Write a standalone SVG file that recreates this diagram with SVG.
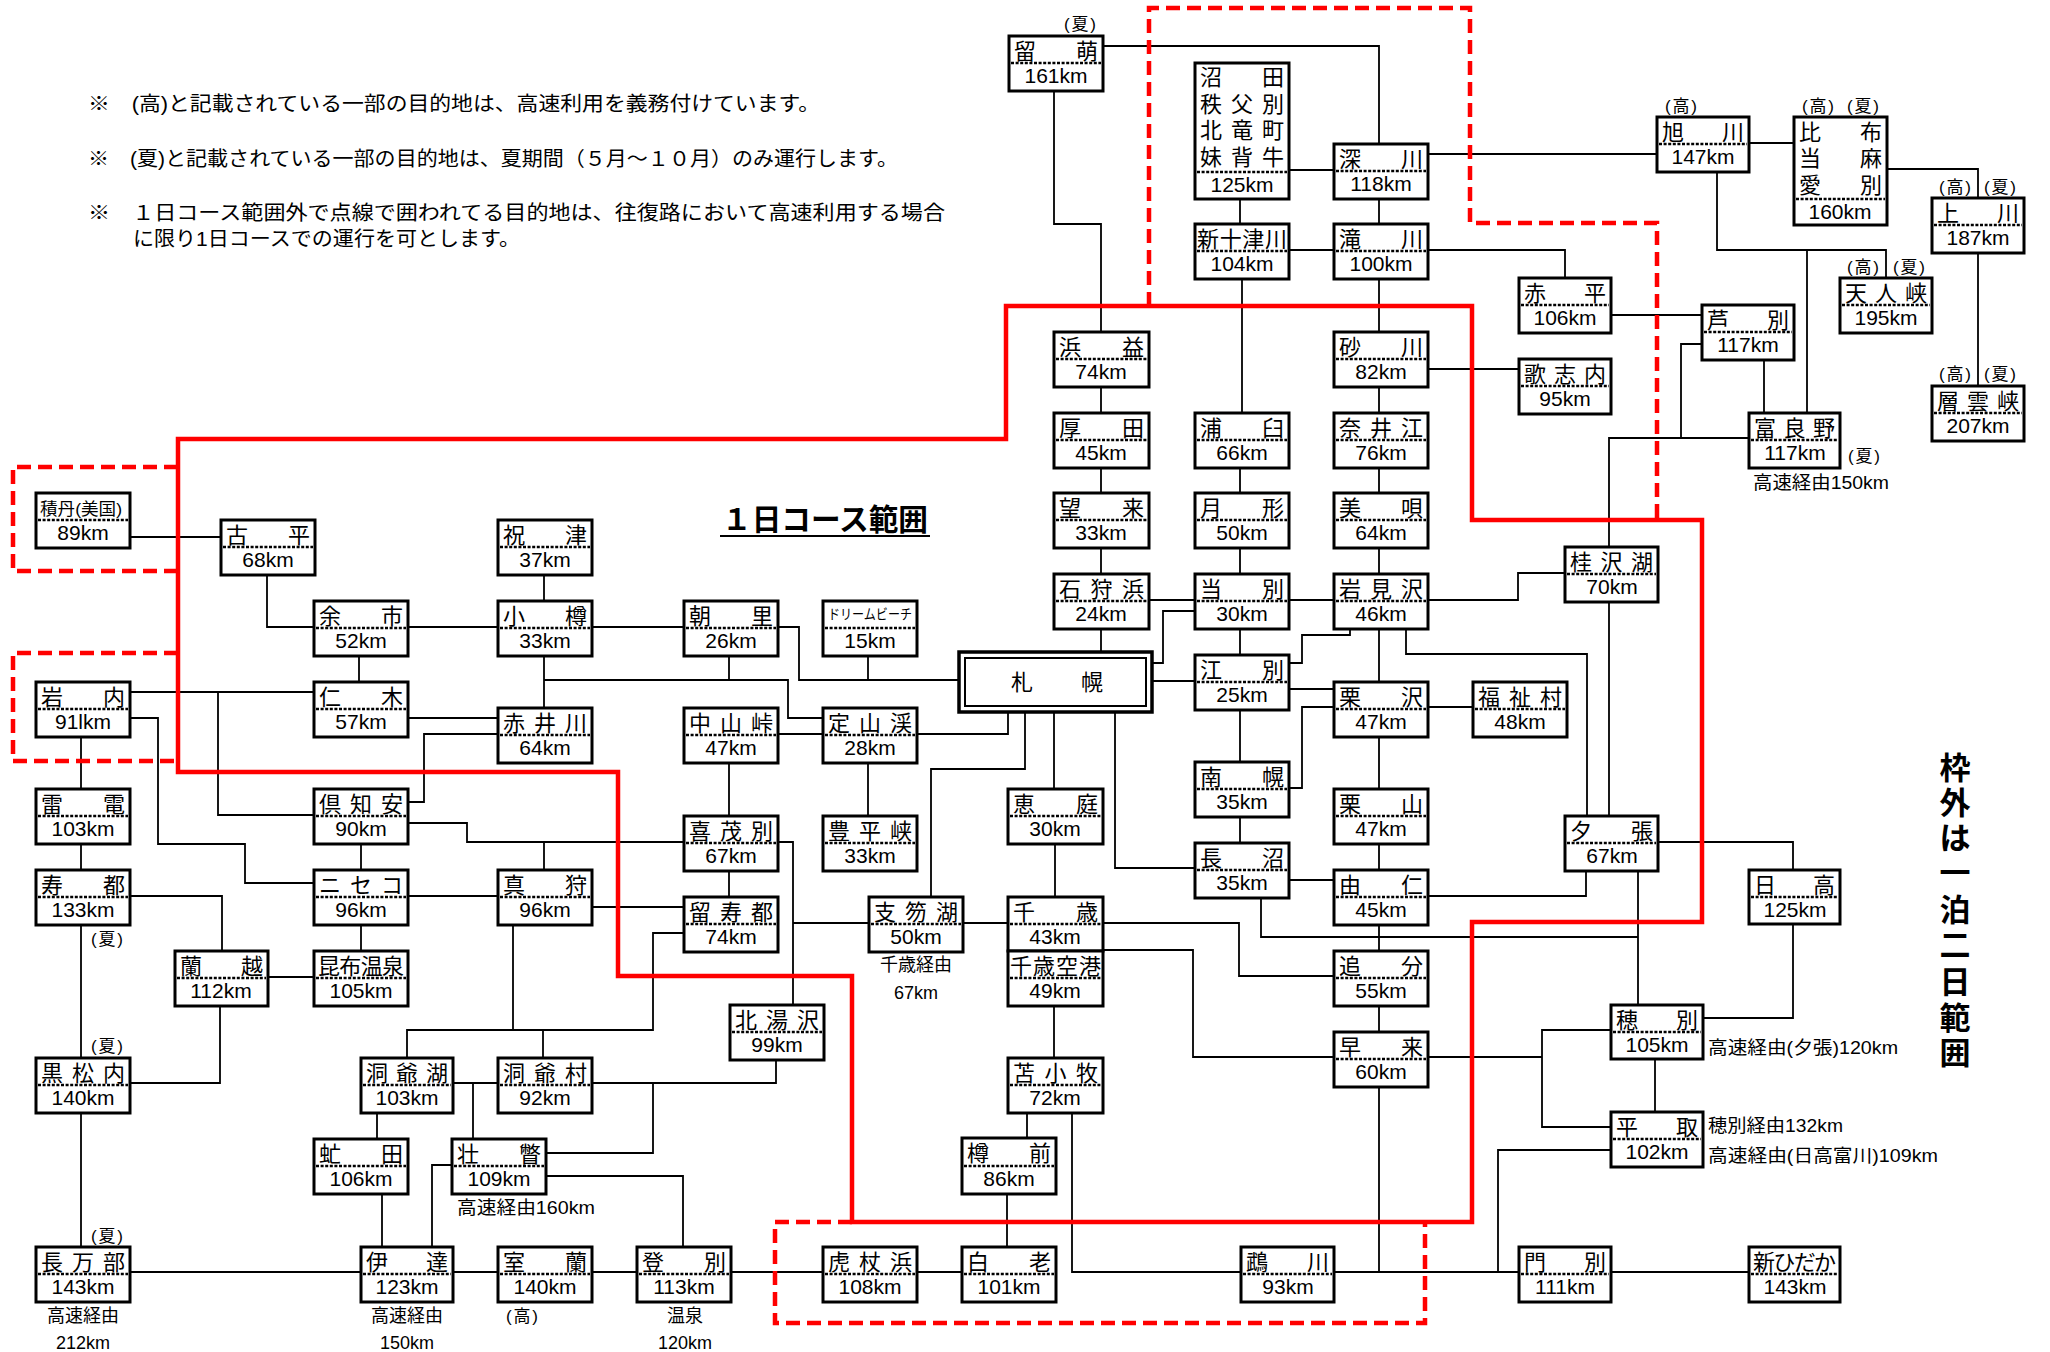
<svg xmlns="http://www.w3.org/2000/svg" width="2050" height="1352" viewBox="0 0 2050 1352">
<style>
text{font-family:"Liberation Sans","Noto Sans CJK JP",sans-serif;fill:#000}
.b{fill:#fff;stroke:#000;stroke-width:3}
.d{stroke:#000;stroke-width:2.5;stroke-dasharray:3 1.6}
.n{font-size:22px}
.k{font-size:21px;text-anchor:middle}
.s{font-size:17px;text-anchor:middle}
.l{font-size:18px}
.lm{font-size:18px;text-anchor:middle}
.note{font-size:20px}
.c{fill:none;stroke:#000;stroke-width:1.8}
.r{fill:none;stroke:#f00;stroke-width:4.5}
.rd{fill:none;stroke:#f00;stroke-width:4.5;stroke-dasharray:14 7}
.v{font-size:31px;font-weight:bold;text-anchor:middle}
</style>
<rect width="2050" height="1352" fill="#fff"/>
<g id="notes">
<text class="note" x="88" y="111" textLength="732" lengthAdjust="spacingAndGlyphs">※　(高)と記載されている一部の目的地は、高速利用を義務付けています。</text>
<text class="note" x="88" y="166" textLength="810" lengthAdjust="spacingAndGlyphs">※　(夏)と記載されている一部の目的地は、夏期間（５月～１０月）のみ運行します。</text>
<text class="note" x="88" y="220" textLength="857" lengthAdjust="spacingAndGlyphs">※　１日コース範囲外で点線で囲われてる目的地は、往復路において高速利用する場合</text>
<text class="note" x="133" y="246" textLength="387" lengthAdjust="spacingAndGlyphs">に限り1日コースでの運行を可とします。</text>
<text x="722" y="530" font-size="30" font-weight="bold" textLength="206" lengthAdjust="spacingAndGlyphs">１日コース範囲</text>
<line x1="720" y1="536" x2="930" y2="536" stroke="#000" stroke-width="2"/>
<text class="v" x="1955" y="779">枠</text>
<text class="v" x="1955" y="814">外</text>
<text class="v" x="1955" y="849">は</text>
<text class="v" x="1955" y="884">一</text>
<text class="v" x="1955" y="921">泊</text>
<text class="v" x="1955" y="956">二</text>
<text class="v" x="1955" y="993">日</text>
<text class="v" x="1955" y="1029">範</text>
<text class="v" x="1955" y="1064">囲</text>
</g>
<g id="connectors">
<path class="c" d="M1103,46H1379V144"/>
<path class="c" d="M1054,91V224H1101V332"/>
<path class="c" d="M1288,170H1334"/>
<path class="c" d="M1240,199V224"/>
<path class="c" d="M1379,199V224"/>
<path class="c" d="M1288,250H1334"/>
<path class="c" d="M1242,279V413"/>
<path class="c" d="M1379,279V332"/>
<path class="c" d="M1428,154H1657"/>
<path class="c" d="M1428,250H1565V278"/>
<path class="c" d="M1428,369H1519"/>
<path class="c" d="M1749,143H1794"/>
<path class="c" d="M1887,169H1978V198"/>
<path class="c" d="M1717,172V250H1886V278"/>
<path class="c" d="M1807,250V413"/>
<path class="c" d="M1611,315H1702"/>
<path class="c" d="M1764,359V413"/>
<path class="c" d="M1702,344H1681V438"/>
<path class="c" d="M1749,438H1609V547"/>
<path class="c" d="M1978,252V386"/>
<path class="c" d="M1101,387V413M1101,468V493M1101,548V574M1101,629V652"/>
<path class="c" d="M1240,468V493M1240,548V574M1240,629V655"/>
<path class="c" d="M1379,387V413M1379,468V493M1379,548V574M1379,629V682"/>
<path class="c" d="M1149,600H1195"/>
<path class="c" d="M1195,611H1163V663H1152"/>
<path class="c" d="M1288,600H1334"/>
<path class="c" d="M1428,600H1518V573H1565"/>
<path class="c" d="M1350,629V635H1302V663H1288"/>
<path class="c" d="M1406,629V654H1587V816"/>
<path class="c" d="M1288,689H1334"/>
<path class="c" d="M1240,709V762"/>
<path class="c" d="M1334,707H1302V788H1288"/>
<path class="c" d="M1428,707H1473"/>
<path class="c" d="M1379,736V789M1379,844V870"/>
<path class="c" d="M1240,817V843"/>
<path class="c" d="M1288,880H1334"/>
<path class="c" d="M1152,681H1195"/>
<path class="c" d="M1054,712V789"/>
<path class="c" d="M1115,712V868H1195"/>
<path class="c" d="M1008,712V734H917"/>
<path class="c" d="M1025,712V769H931V897"/>
<path class="c" d="M544,575V601"/>
<path class="c" d="M592,627H684"/>
<path class="c" d="M408,627H498"/>
<path class="c" d="M778,627H799V680H959"/>
<path class="c" d="M868,656V680"/>
<path class="c" d="M544,656V708"/>
<path class="c" d="M544,680H788V718H823"/>
<path class="c" d="M729,656V680"/>
<path class="c" d="M778,734H823"/>
<path class="c" d="M729,763V816"/>
<path class="c" d="M868,763V816"/>
<path class="c" d="M408,823H467V842H684"/>
<path class="c" d="M544,842V870"/>
<path class="c" d="M778,842H793V1005"/>
<path class="c" d="M793,923H869"/>
<path class="c" d="M729,871V897"/>
<path class="c" d="M963,923H1008"/>
<path class="c" d="M130,537H221"/>
<path class="c" d="M267,575V627H314"/>
<path class="c" d="M359,656V682"/>
<path class="c" d="M130,692H314"/>
<path class="c" d="M218,692V815H314"/>
<path class="c" d="M130,718H158V844H245V883H314"/>
<path class="c" d="M81,737V789M81,844V870"/>
<path class="c" d="M408,718H498"/>
<path class="c" d="M498,734H424V802H408"/>
<path class="c" d="M361,844V870"/>
<path class="c" d="M408,896H498"/>
<path class="c" d="M130,896H222V951"/>
<path class="c" d="M81,924V1058"/>
<path class="c" d="M268,977H314"/>
<path class="c" d="M361,924V951"/>
<path class="c" d="M220,1006V1083H130"/>
<path class="c" d="M81,1113V1247"/>
<path class="c" d="M130,1272H361"/>
<path class="c" d="M513,924V1030"/>
<path class="c" d="M407,1058V1030H653V933H684"/>
<path class="c" d="M543,1030V1058"/>
<path class="c" d="M592,907H684"/>
<path class="c" d="M453,1083H498"/>
<path class="c" d="M473,1083V1139"/>
<path class="c" d="M377,1113V1139"/>
<path class="c" d="M382,1194V1247"/>
<path class="c" d="M452,1165H432V1247"/>
<path class="c" d="M592,1083H776V1059"/>
<path class="c" d="M653,1083V1153H546"/>
<path class="c" d="M546,1176H683V1247"/>
<path class="c" d="M453,1272H498M592,1272H637M731,1272H823M917,1272H962"/>
<path class="c" d="M1103,923H1239V976H1334"/>
<path class="c" d="M1103,950H1193V1057H1334"/>
<path class="c" d="M1261,898V937H1638"/>
<path class="c" d="M1638,871V1005"/>
<path class="c" d="M1379,924V951M1379,1006V1032"/>
<path class="c" d="M1379,1086V1272"/>
<path class="c" d="M1334,1272H1519"/>
<path class="c" d="M1428,1057H1542"/>
<path class="c" d="M1611,1030H1542V1127H1611"/>
<path class="c" d="M1055,844V897"/>
<path class="c" d="M1054,1006V1058"/>
<path class="c" d="M1027,1113V1138"/>
<path class="c" d="M1072,1113V1272H1241"/>
<path class="c" d="M1007,1194V1247"/>
<path class="c" d="M1611,1150H1498V1272"/>
<path class="c" d="M1611,1272H1749"/>
<path class="c" d="M1703,1018H1793V924"/>
<path class="c" d="M1658,842H1793V870"/>
<path class="c" d="M1655,1059V1112"/>
<path class="c" d="M1428,896H1586V871"/>
<path class="c" d="M1609,602V816"/>
</g>
<g id="range-lines">
<path class="r" d="M178,439H1006V306H1472V520H1702V922H1472V1222H852V976H618V772H178Z"/>
<path class="rd" d="M178,467H13V571H178"/>
<path class="rd" d="M178,653H13V761H178"/>
<path class="rd" d="M1149,306V8H1470V223H1657V520"/>
<path class="rd" d="M852,1222H775V1323H1425V1222"/>
</g>
<g id="sapporo">
<rect x="959" y="652" width="193" height="60" fill="#fff" stroke="#000" stroke-width="3.5"/>
<rect x="965" y="658" width="181" height="48" fill="none" stroke="#000" stroke-width="2"/>
<text class="n" x="1011" y="690" textLength="92" lengthAdjust="spacing">札幌</text>
</g>
<g id="numata">
<rect class="b" x="1195" y="63" width="94" height="136"/>
<line class="d" x1="1197" y1="172" x2="1287" y2="172"/>
<text class="n" x="1200" y="85" textLength="84" lengthAdjust="spacing">沼田</text>
<text class="n" x="1200" y="111.5" textLength="84" lengthAdjust="spacing">秩父別</text>
<text class="n" x="1200" y="138" textLength="84" lengthAdjust="spacing">北竜町</text>
<text class="n" x="1200" y="164.5" textLength="84" lengthAdjust="spacing">妹背牛</text>
<text class="k" x="1242" y="192">125km</text>
</g>
<g id="pippu">
<rect class="b" x="1794" y="117" width="93" height="108"/>
<line class="d" x1="1796" y1="199" x2="1885" y2="199"/>
<text class="n" x="1799" y="139.5" textLength="83" lengthAdjust="spacing">比布</text>
<text class="n" x="1799" y="166" textLength="83" lengthAdjust="spacing">当麻</text>
<text class="n" x="1799" y="192.5" textLength="83" lengthAdjust="spacing">愛別</text>
<text class="k" x="1840" y="219">160km</text>
</g>
<g id="rumoi"><rect class="b" x="1009" y="36" width="94" height="55"/><line class="d" x1="1011" y1="63" x2="1101" y2="63"/><text class="n" x="1014" y="58.5" textLength="84" lengthAdjust="spacing">留萌</text><text class="k" x="1056" y="83">161km</text></g>
<g id="fukagawa"><rect class="b" x="1334" y="144" width="94" height="55"/><line class="d" x1="1336" y1="171" x2="1426" y2="171"/><text class="n" x="1339" y="166.5" textLength="84" lengthAdjust="spacing">深川</text><text class="k" x="1381" y="191">118km</text></g>
<g id="shintotsukawa"><rect class="b" x="1195" y="224" width="94" height="55"/><line class="d" x1="1197" y1="251" x2="1287" y2="251"/><text class="n" x="1197" y="246.5" textLength="90" lengthAdjust="spacing">新十津川</text><text class="k" x="1242" y="271">104km</text></g>
<g id="takikawa"><rect class="b" x="1334" y="224" width="94" height="55"/><line class="d" x1="1336" y1="251" x2="1426" y2="251"/><text class="n" x="1339" y="246.5" textLength="84" lengthAdjust="spacing">滝川</text><text class="k" x="1381" y="271">100km</text></g>
<g id="asahikawa"><rect class="b" x="1657" y="117" width="92" height="55"/><line class="d" x1="1659" y1="144" x2="1747" y2="144"/><text class="n" x="1662" y="139.5" textLength="82" lengthAdjust="spacing">旭川</text><text class="k" x="1703" y="164">147km</text></g>
<g id="kamikawa"><rect class="b" x="1932" y="198" width="92" height="55"/><line class="d" x1="1934" y1="225" x2="2022" y2="225"/><text class="n" x="1937" y="220.5" textLength="82" lengthAdjust="spacing">上川</text><text class="k" x="1978" y="245">187km</text></g>
<g id="tenninkyo"><rect class="b" x="1840" y="278" width="92" height="55"/><line class="d" x1="1842" y1="305" x2="1930" y2="305"/><text class="n" x="1845" y="300.5" textLength="82" lengthAdjust="spacing">天人峡</text><text class="k" x="1886" y="325">195km</text></g>
<g id="akabira"><rect class="b" x="1519" y="278" width="92" height="55"/><line class="d" x1="1521" y1="305" x2="1609" y2="305"/><text class="n" x="1524" y="300.5" textLength="82" lengthAdjust="spacing">赤平</text><text class="k" x="1565" y="325">106km</text></g>
<g id="ashibetsu"><rect class="b" x="1702" y="305" width="92" height="55"/><line class="d" x1="1704" y1="332" x2="1792" y2="332"/><text class="n" x="1707" y="327.5" textLength="82" lengthAdjust="spacing">芦別</text><text class="k" x="1748" y="352">117km</text></g>
<g id="utashinai"><rect class="b" x="1519" y="359" width="92" height="55"/><line class="d" x1="1521" y1="386" x2="1609" y2="386"/><text class="n" x="1524" y="381.5" textLength="82" lengthAdjust="spacing">歌志内</text><text class="k" x="1565" y="406">95km</text></g>
<g id="sounkyo"><rect class="b" x="1932" y="386" width="92" height="55"/><line class="d" x1="1934" y1="413" x2="2022" y2="413"/><text class="n" x="1937" y="408.5" textLength="82" lengthAdjust="spacing">層雲峡</text><text class="k" x="1978" y="433">207km</text></g>
<g id="furano"><rect class="b" x="1749" y="413" width="91" height="55"/><line class="d" x1="1751" y1="440" x2="1838" y2="440"/><text class="n" x="1754" y="435.5" textLength="81" lengthAdjust="spacing">富良野</text><text class="k" x="1795" y="460">117km</text></g>
<g id="hamamasu"><rect class="b" x="1054" y="332" width="95" height="55"/><line class="d" x1="1056" y1="359" x2="1147" y2="359"/><text class="n" x="1059" y="354.5" textLength="85" lengthAdjust="spacing">浜益</text><text class="k" x="1101" y="379">74km</text></g>
<g id="sunagawa"><rect class="b" x="1334" y="332" width="94" height="55"/><line class="d" x1="1336" y1="359" x2="1426" y2="359"/><text class="n" x="1339" y="354.5" textLength="84" lengthAdjust="spacing">砂川</text><text class="k" x="1381" y="379">82km</text></g>
<g id="atsuta"><rect class="b" x="1054" y="413" width="95" height="55"/><line class="d" x1="1056" y1="440" x2="1147" y2="440"/><text class="n" x="1059" y="435.5" textLength="85" lengthAdjust="spacing">厚田</text><text class="k" x="1101" y="460">45km</text></g>
<g id="urausu"><rect class="b" x="1195" y="413" width="94" height="55"/><line class="d" x1="1197" y1="440" x2="1287" y2="440"/><text class="n" x="1200" y="435.5" textLength="84" lengthAdjust="spacing">浦臼</text><text class="k" x="1242" y="460">66km</text></g>
<g id="naie"><rect class="b" x="1334" y="413" width="94" height="55"/><line class="d" x1="1336" y1="440" x2="1426" y2="440"/><text class="n" x="1339" y="435.5" textLength="84" lengthAdjust="spacing">奈井江</text><text class="k" x="1381" y="460">76km</text></g>
<g id="mourai"><rect class="b" x="1054" y="493" width="95" height="55"/><line class="d" x1="1056" y1="520" x2="1147" y2="520"/><text class="n" x="1059" y="515.5" textLength="85" lengthAdjust="spacing">望来</text><text class="k" x="1101" y="540">33km</text></g>
<g id="tsukigata"><rect class="b" x="1195" y="493" width="94" height="55"/><line class="d" x1="1197" y1="520" x2="1287" y2="520"/><text class="n" x="1200" y="515.5" textLength="84" lengthAdjust="spacing">月形</text><text class="k" x="1242" y="540">50km</text></g>
<g id="bibai"><rect class="b" x="1334" y="493" width="94" height="55"/><line class="d" x1="1336" y1="520" x2="1426" y2="520"/><text class="n" x="1339" y="515.5" textLength="84" lengthAdjust="spacing">美唄</text><text class="k" x="1381" y="540">64km</text></g>
<g id="ishikarihama"><rect class="b" x="1054" y="574" width="95" height="55"/><line class="d" x1="1056" y1="601" x2="1147" y2="601"/><text class="n" x="1059" y="596.5" textLength="85" lengthAdjust="spacing">石狩浜</text><text class="k" x="1101" y="621">24km</text></g>
<g id="tobetsu"><rect class="b" x="1195" y="574" width="94" height="55"/><line class="d" x1="1197" y1="601" x2="1287" y2="601"/><text class="n" x="1200" y="596.5" textLength="84" lengthAdjust="spacing">当別</text><text class="k" x="1242" y="621">30km</text></g>
<g id="iwamizawa"><rect class="b" x="1334" y="574" width="94" height="55"/><line class="d" x1="1336" y1="601" x2="1426" y2="601"/><text class="n" x="1339" y="596.5" textLength="84" lengthAdjust="spacing">岩見沢</text><text class="k" x="1381" y="621">46km</text></g>
<g id="ebetsu"><rect class="b" x="1195" y="655" width="94" height="55"/><line class="d" x1="1197" y1="682" x2="1287" y2="682"/><text class="n" x="1200" y="677.5" textLength="84" lengthAdjust="spacing">江別</text><text class="k" x="1242" y="702">25km</text></g>
<g id="kurisawa"><rect class="b" x="1334" y="682" width="94" height="55"/><line class="d" x1="1336" y1="709" x2="1426" y2="709"/><text class="n" x="1339" y="704.5" textLength="84" lengthAdjust="spacing">栗沢</text><text class="k" x="1381" y="729">47km</text></g>
<g id="fukushimura"><rect class="b" x="1473" y="682" width="94" height="55"/><line class="d" x1="1475" y1="709" x2="1565" y2="709"/><text class="n" x="1478" y="704.5" textLength="84" lengthAdjust="spacing">福祉村</text><text class="k" x="1520" y="729">48km</text></g>
<g id="nanporo"><rect class="b" x="1195" y="762" width="94" height="55"/><line class="d" x1="1197" y1="789" x2="1287" y2="789"/><text class="n" x="1200" y="784.5" textLength="84" lengthAdjust="spacing">南幌</text><text class="k" x="1242" y="809">35km</text></g>
<g id="eniwa"><rect class="b" x="1008" y="789" width="95" height="55"/><line class="d" x1="1010" y1="816" x2="1101" y2="816"/><text class="n" x="1013" y="811.5" textLength="85" lengthAdjust="spacing">恵庭</text><text class="k" x="1055" y="836">30km</text></g>
<g id="kuriyama"><rect class="b" x="1334" y="789" width="94" height="55"/><line class="d" x1="1336" y1="816" x2="1426" y2="816"/><text class="n" x="1339" y="811.5" textLength="84" lengthAdjust="spacing">栗山</text><text class="k" x="1381" y="836">47km</text></g>
<g id="naganuma"><rect class="b" x="1195" y="843" width="94" height="55"/><line class="d" x1="1197" y1="870" x2="1287" y2="870"/><text class="n" x="1200" y="865.5" textLength="84" lengthAdjust="spacing">長沼</text><text class="k" x="1242" y="890">35km</text></g>
<g id="yuni"><rect class="b" x="1334" y="870" width="94" height="55"/><line class="d" x1="1336" y1="897" x2="1426" y2="897"/><text class="n" x="1339" y="892.5" textLength="84" lengthAdjust="spacing">由仁</text><text class="k" x="1381" y="917">45km</text></g>
<g id="chitose"><rect class="b" x="1008" y="897" width="95" height="54"/><line class="d" x1="1010" y1="924" x2="1101" y2="924"/><text class="n" x="1013" y="919.5" textLength="85" lengthAdjust="spacing">千歳</text><text class="k" x="1055" y="944">43km</text></g>
<g id="chitose-airport"><rect class="b" x="1008" y="951" width="95" height="55"/><line class="d" x1="1010" y1="978" x2="1101" y2="978"/><text class="n" x="1010" y="973.5" textLength="91" lengthAdjust="spacing">千歳空港</text><text class="k" x="1055" y="998">49km</text></g>
<g id="oiwake"><rect class="b" x="1334" y="951" width="94" height="55"/><line class="d" x1="1336" y1="978" x2="1426" y2="978"/><text class="n" x="1339" y="973.5" textLength="84" lengthAdjust="spacing">追分</text><text class="k" x="1381" y="998">55km</text></g>
<g id="hayakita"><rect class="b" x="1334" y="1032" width="94" height="55"/><line class="d" x1="1336" y1="1059" x2="1426" y2="1059"/><text class="n" x="1339" y="1054.5" textLength="84" lengthAdjust="spacing">早来</text><text class="k" x="1381" y="1079">60km</text></g>
<g id="tomakomai"><rect class="b" x="1008" y="1058" width="95" height="55"/><line class="d" x1="1010" y1="1085" x2="1101" y2="1085"/><text class="n" x="1013" y="1080.5" textLength="85" lengthAdjust="spacing">苫小牧</text><text class="k" x="1055" y="1105">72km</text></g>
<g id="tarumae"><rect class="b" x="962" y="1138" width="94" height="56"/><line class="d" x1="964" y1="1166" x2="1054" y2="1166"/><text class="n" x="967" y="1161" textLength="84" lengthAdjust="spacing">樽前</text><text class="k" x="1009" y="1186">86km</text></g>
<g id="shiraoi"><rect class="b" x="962" y="1247" width="94" height="55"/><line class="d" x1="964" y1="1274" x2="1054" y2="1274"/><text class="n" x="967" y="1269.5" textLength="84" lengthAdjust="spacing">白老</text><text class="k" x="1009" y="1294">101km</text></g>
<g id="mukawa"><rect class="b" x="1241" y="1247" width="93" height="55"/><line class="d" x1="1243" y1="1274" x2="1332" y2="1274"/><text class="n" x="1246" y="1269.5" textLength="83" lengthAdjust="spacing">鵡川</text><text class="k" x="1288" y="1294">93km</text></g>
<g id="katsurazawako"><rect class="b" x="1565" y="547" width="93" height="55"/><line class="d" x1="1567" y1="574" x2="1656" y2="574"/><text class="n" x="1570" y="569.5" textLength="83" lengthAdjust="spacing">桂沢湖</text><text class="k" x="1612" y="594">70km</text></g>
<g id="yubari"><rect class="b" x="1565" y="816" width="93" height="55"/><line class="d" x1="1567" y1="843" x2="1656" y2="843"/><text class="n" x="1570" y="838.5" textLength="83" lengthAdjust="spacing">夕張</text><text class="k" x="1612" y="863">67km</text></g>
<g id="hidaka"><rect class="b" x="1749" y="870" width="91" height="54"/><line class="d" x1="1751" y1="897" x2="1838" y2="897"/><text class="n" x="1754" y="892.5" textLength="81" lengthAdjust="spacing">日高</text><text class="k" x="1795" y="917">125km</text></g>
<g id="hobetsu"><rect class="b" x="1611" y="1005" width="92" height="54"/><line class="d" x1="1613" y1="1032" x2="1701" y2="1032"/><text class="n" x="1616" y="1027.5" textLength="82" lengthAdjust="spacing">穂別</text><text class="k" x="1657" y="1052">105km</text></g>
<g id="biratori"><rect class="b" x="1611" y="1112" width="92" height="55"/><line class="d" x1="1613" y1="1139" x2="1701" y2="1139"/><text class="n" x="1616" y="1134.5" textLength="82" lengthAdjust="spacing">平取</text><text class="k" x="1657" y="1159">102km</text></g>
<g id="monbetsu"><rect class="b" x="1519" y="1247" width="92" height="55"/><line class="d" x1="1521" y1="1274" x2="1609" y2="1274"/><text class="n" x="1524" y="1269.5" textLength="82" lengthAdjust="spacing">門別</text><text class="k" x="1565" y="1294">111km</text></g>
<g id="shinhidaka"><rect class="b" x="1749" y="1247" width="91" height="55"/><line class="d" x1="1751" y1="1274" x2="1838" y2="1274"/><text class="n" x="1753" y="1269.5" textLength="83" lengthAdjust="spacing">新ひだか</text><text class="k" x="1795" y="1294">143km</text></g>
<g id="shakotan"><rect class="b" x="36" y="493" width="94" height="55"/><line class="d" x1="38" y1="520" x2="128" y2="520"/><text x="40" y="515" font-size="17" textLength="82" lengthAdjust="spacingAndGlyphs">積丹(美国)</text><text class="k" x="83" y="540">89km</text></g>
<g id="furubira"><rect class="b" x="221" y="520" width="94" height="55"/><line class="d" x1="223" y1="547" x2="313" y2="547"/><text class="n" x="226" y="542.5" textLength="84" lengthAdjust="spacing">古平</text><text class="k" x="268" y="567">68km</text></g>
<g id="yoichi"><rect class="b" x="314" y="601" width="94" height="55"/><line class="d" x1="316" y1="628" x2="406" y2="628"/><text class="n" x="319" y="623.5" textLength="84" lengthAdjust="spacing">余市</text><text class="k" x="361" y="648">52km</text></g>
<g id="iwanai"><rect class="b" x="36" y="682" width="94" height="55"/><line class="d" x1="38" y1="709" x2="128" y2="709"/><text class="n" x="41" y="704.5" textLength="84" lengthAdjust="spacing">岩内</text><text class="k" x="83" y="729">91lkm</text></g>
<g id="niki"><rect class="b" x="314" y="682" width="94" height="55"/><line class="d" x1="316" y1="709" x2="406" y2="709"/><text class="n" x="319" y="704.5" textLength="84" lengthAdjust="spacing">仁木</text><text class="k" x="361" y="729">57km</text></g>
<g id="raiden"><rect class="b" x="36" y="789" width="94" height="55"/><line class="d" x1="38" y1="816" x2="128" y2="816"/><text class="n" x="41" y="811.5" textLength="84" lengthAdjust="spacing">雷電</text><text class="k" x="83" y="836">103km</text></g>
<g id="kutchan"><rect class="b" x="314" y="789" width="94" height="55"/><line class="d" x1="316" y1="816" x2="406" y2="816"/><text class="n" x="319" y="811.5" textLength="84" lengthAdjust="spacing">倶知安</text><text class="k" x="361" y="836">90km</text></g>
<g id="suttsu"><rect class="b" x="36" y="870" width="94" height="55"/><line class="d" x1="38" y1="897" x2="128" y2="897"/><text class="n" x="41" y="892.5" textLength="84" lengthAdjust="spacing">寿都</text><text class="k" x="83" y="917">133km</text></g>
<g id="niseko"><rect class="b" x="314" y="870" width="94" height="55"/><line class="d" x1="316" y1="897" x2="406" y2="897"/><text class="n" x="319" y="892.5" textLength="84" lengthAdjust="spacing">ニセコ</text><text class="k" x="361" y="917">96km</text></g>
<g id="rankoshi"><rect class="b" x="175" y="951" width="93" height="55"/><line class="d" x1="177" y1="978" x2="266" y2="978"/><text class="n" x="180" y="973.5" textLength="83" lengthAdjust="spacing">蘭越</text><text class="k" x="221" y="998">112km</text></g>
<g id="konbu-onsen"><rect class="b" x="314" y="951" width="94" height="55"/><line class="d" x1="316" y1="978" x2="406" y2="978"/><text class="n" x="318" y="973.5" textLength="86" lengthAdjust="spacing">昆布温泉</text><text class="k" x="361" y="998">105km</text></g>
<g id="kuromatsunai"><rect class="b" x="36" y="1058" width="94" height="55"/><line class="d" x1="38" y1="1085" x2="128" y2="1085"/><text class="n" x="41" y="1080.5" textLength="84" lengthAdjust="spacing">黒松内</text><text class="k" x="83" y="1105">140km</text></g>
<g id="oshamambe"><rect class="b" x="36" y="1247" width="94" height="55"/><line class="d" x1="38" y1="1274" x2="128" y2="1274"/><text class="n" x="41" y="1269.5" textLength="84" lengthAdjust="spacing">長万部</text><text class="k" x="83" y="1294">143km</text></g>
<g id="shukutsu"><rect class="b" x="498" y="520" width="94" height="55"/><line class="d" x1="500" y1="547" x2="590" y2="547"/><text class="n" x="503" y="542.5" textLength="84" lengthAdjust="spacing">祝津</text><text class="k" x="545" y="567">37km</text></g>
<g id="otaru"><rect class="b" x="498" y="601" width="94" height="55"/><line class="d" x1="500" y1="628" x2="590" y2="628"/><text class="n" x="503" y="623.5" textLength="84" lengthAdjust="spacing">小樽</text><text class="k" x="545" y="648">33km</text></g>
<g id="akaigawa"><rect class="b" x="498" y="708" width="94" height="55"/><line class="d" x1="500" y1="735" x2="590" y2="735"/><text class="n" x="503" y="730.5" textLength="84" lengthAdjust="spacing">赤井川</text><text class="k" x="545" y="755">64km</text></g>
<g id="makkari"><rect class="b" x="498" y="870" width="94" height="55"/><line class="d" x1="500" y1="897" x2="590" y2="897"/><text class="n" x="503" y="892.5" textLength="84" lengthAdjust="spacing">真狩</text><text class="k" x="545" y="917">96km</text></g>
<g id="asari"><rect class="b" x="684" y="601" width="94" height="55"/><line class="d" x1="686" y1="628" x2="776" y2="628"/><text class="n" x="689" y="623.5" textLength="84" lengthAdjust="spacing">朝里</text><text class="k" x="731" y="648">26km</text></g>
<g id="dream-beach"><rect class="b" x="823" y="601" width="94" height="55"/><line class="d" x1="825" y1="628" x2="915" y2="628"/><text x="828" y="619" font-size="14" textLength="84" lengthAdjust="spacingAndGlyphs">ドリームビーチ</text><text class="k" x="870" y="648">15km</text></g>
<g id="nakayamatoge"><rect class="b" x="684" y="708" width="94" height="55"/><line class="d" x1="686" y1="735" x2="776" y2="735"/><text class="n" x="689" y="730.5" textLength="84" lengthAdjust="spacing">中山峠</text><text class="k" x="731" y="755">47km</text></g>
<g id="jozankei"><rect class="b" x="823" y="708" width="94" height="55"/><line class="d" x1="825" y1="735" x2="915" y2="735"/><text class="n" x="828" y="730.5" textLength="84" lengthAdjust="spacing">定山渓</text><text class="k" x="870" y="755">28km</text></g>
<g id="kimobetsu"><rect class="b" x="684" y="816" width="94" height="55"/><line class="d" x1="686" y1="843" x2="776" y2="843"/><text class="n" x="689" y="838.5" textLength="84" lengthAdjust="spacing">喜茂別</text><text class="k" x="731" y="863">67km</text></g>
<g id="hoheikyo"><rect class="b" x="823" y="816" width="94" height="55"/><line class="d" x1="825" y1="843" x2="915" y2="843"/><text class="n" x="828" y="838.5" textLength="84" lengthAdjust="spacing">豊平峡</text><text class="k" x="870" y="863">33km</text></g>
<g id="rusutsu"><rect class="b" x="684" y="897" width="94" height="55"/><line class="d" x1="686" y1="924" x2="776" y2="924"/><text class="n" x="689" y="919.5" textLength="84" lengthAdjust="spacing">留寿都</text><text class="k" x="731" y="944">74km</text></g>
<g id="shikotsuko"><rect class="b" x="869" y="897" width="94" height="55"/><line class="d" x1="871" y1="924" x2="961" y2="924"/><text class="n" x="874" y="919.5" textLength="84" lengthAdjust="spacing">支笏湖</text><text class="k" x="916" y="944">50km</text></g>
<g id="kitayuzawa"><rect class="b" x="730" y="1005" width="94" height="55"/><line class="d" x1="732" y1="1032" x2="822" y2="1032"/><text class="n" x="735" y="1027.5" textLength="84" lengthAdjust="spacing">北湯沢</text><text class="k" x="777" y="1052">99km</text></g>
<g id="toyako"><rect class="b" x="361" y="1058" width="92" height="55"/><line class="d" x1="363" y1="1085" x2="451" y2="1085"/><text class="n" x="366" y="1080.5" textLength="82" lengthAdjust="spacing">洞爺湖</text><text class="k" x="407" y="1105">103km</text></g>
<g id="toyamura"><rect class="b" x="498" y="1058" width="94" height="55"/><line class="d" x1="500" y1="1085" x2="590" y2="1085"/><text class="n" x="503" y="1080.5" textLength="84" lengthAdjust="spacing">洞爺村</text><text class="k" x="545" y="1105">92km</text></g>
<g id="abuta"><rect class="b" x="314" y="1139" width="94" height="55"/><line class="d" x1="316" y1="1166" x2="406" y2="1166"/><text class="n" x="319" y="1161.5" textLength="84" lengthAdjust="spacing">虻田</text><text class="k" x="361" y="1186">106km</text></g>
<g id="sobetsu"><rect class="b" x="452" y="1139" width="94" height="55"/><line class="d" x1="454" y1="1166" x2="544" y2="1166"/><text class="n" x="457" y="1161.5" textLength="84" lengthAdjust="spacing">壮瞥</text><text class="k" x="499" y="1186">109km</text></g>
<g id="date"><rect class="b" x="361" y="1247" width="92" height="55"/><line class="d" x1="363" y1="1274" x2="451" y2="1274"/><text class="n" x="366" y="1269.5" textLength="82" lengthAdjust="spacing">伊達</text><text class="k" x="407" y="1294">123km</text></g>
<g id="muroran"><rect class="b" x="498" y="1247" width="94" height="55"/><line class="d" x1="500" y1="1274" x2="590" y2="1274"/><text class="n" x="503" y="1269.5" textLength="84" lengthAdjust="spacing">室蘭</text><text class="k" x="545" y="1294">140km</text></g>
<g id="noboribetsu"><rect class="b" x="637" y="1247" width="94" height="55"/><line class="d" x1="639" y1="1274" x2="729" y2="1274"/><text class="n" x="642" y="1269.5" textLength="84" lengthAdjust="spacing">登別</text><text class="k" x="684" y="1294">113km</text></g>
<g id="kojohama"><rect class="b" x="823" y="1247" width="94" height="55"/><line class="d" x1="825" y1="1274" x2="915" y2="1274"/><text class="n" x="828" y="1269.5" textLength="84" lengthAdjust="spacing">虎杖浜</text><text class="k" x="870" y="1294">108km</text></g>
<g id="labels">
<text class="s" x="1080" y="29.5" textLength="32">(夏)</text>
<text class="s" x="1681" y="111.5" textLength="32">(高)</text>
<text class="s" x="1818" y="111.5" textLength="32">(高)</text>
<text class="s" x="1863" y="111.5" textLength="32">(夏)</text>
<text class="s" x="1955" y="192.5" textLength="32">(高)</text>
<text class="s" x="2000" y="192.5" textLength="32">(夏)</text>
<text class="s" x="1863" y="272.5" textLength="32">(高)</text>
<text class="s" x="1909" y="272.5" textLength="32">(夏)</text>
<text class="s" x="1955" y="379.5" textLength="32">(高)</text>
<text class="s" x="2000" y="379.5" textLength="32">(夏)</text>
<text class="s" x="1864" y="461.5" textLength="32">(夏)</text>
<text class="l" x="1753" y="489" textLength="136" lengthAdjust="spacingAndGlyphs">高速経由150km</text>
<text class="s" x="107" y="944.5" textLength="32">(夏)</text>
<text class="s" x="107" y="1051.5" textLength="32">(夏)</text>
<text class="s" x="107" y="1241.5" textLength="32">(夏)</text>
<text class="lm" x="83" y="1321.5">高速経由</text>
<text class="lm" x="83" y="1348.5">212km</text>
<text class="lm" x="407" y="1321.5">高速経由</text>
<text class="lm" x="407" y="1348.5">150km</text>
<text class="l" x="457" y="1213.5" textLength="138" lengthAdjust="spacingAndGlyphs">高速経由160km</text>
<text class="s" x="522" y="1321.5" textLength="32">(高)</text>
<text class="lm" x="685" y="1321.5">温泉</text>
<text class="lm" x="685" y="1348.5">120km</text>
<text class="lm" x="916" y="970.5">千歳経由</text>
<text class="lm" x="916" y="998.5">67km</text>
<text class="l" x="1708" y="1053.5" textLength="190" lengthAdjust="spacingAndGlyphs">高速経由(夕張)120km</text>
<text class="l" x="1708" y="1131.5" textLength="135" lengthAdjust="spacingAndGlyphs">穂別経由132km</text>
<text class="l" x="1708" y="1161.5" textLength="230" lengthAdjust="spacingAndGlyphs">高速経由(日高富川)109km</text>
</g>
</svg>
